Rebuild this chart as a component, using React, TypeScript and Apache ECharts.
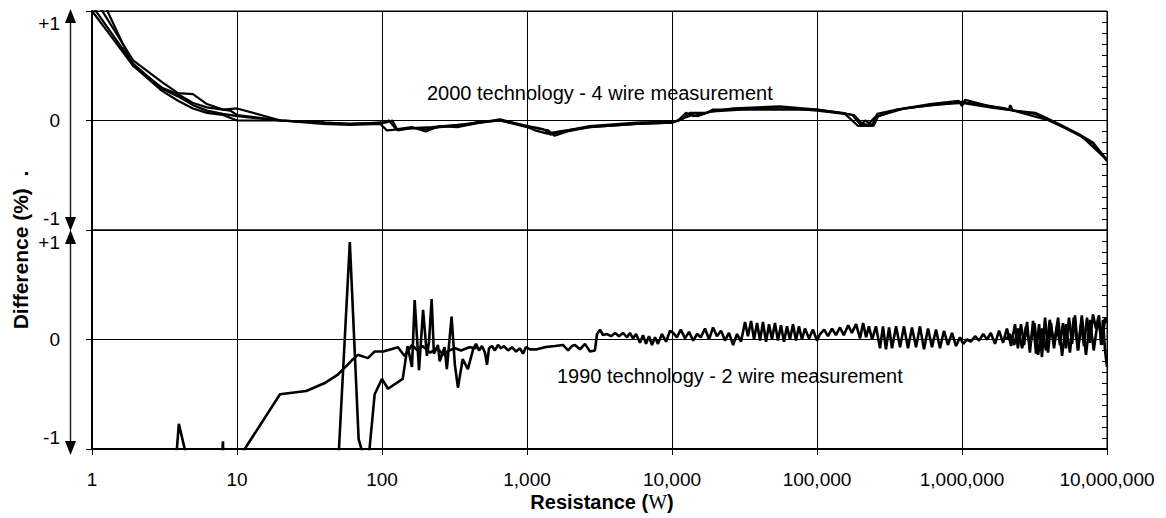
import React, { useEffect, useRef } from "react";
import * as echarts from "echarts";

// ---------- tick labels ----------
const Y_TICK_LABELS: Record<string, string> = { "1": "+1", "0": "0", "-1": "-1" };
const X_TITLE_MAIN = "Resistance (";
const X_TITLE_UNIT = "W";
const Y_TITLE = "Difference (%)  .";
const LABEL_2000 = "2000 technology - 4 wire measurement";
const LABEL_1990 = "1990 technology - 2 wire measurement";

// ---------- 2000 technology (4 wire), four runs: [resistance, difference %] ----------
const run2000A: number[][] = [
  [1, 1.0], [1.3, 0.8], [1.92, 0.5], [3.04, 0.27], [3.92, 0.18], [4.97, 0.11], [6.2, 0.07], [8, 0.05], [10, 0.0],
  [20, 0.0], [39, -0.03], [60, -0.04], [97, -0.03], [108, -0.09], [133, -0.08], [160, -0.07], [200, -0.08],
  [250, -0.06], [330, -0.05], [474, -0.01], [651, 0.0], [1000, -0.06], [1136, -0.09], [1380, -0.12], [1680, -0.1],
  [2700, -0.06], [5700, -0.03], [10000, -0.02], [11700, 0.01], [13300, 0.07], [17400, 0.07], [19200, 0.1],
  [26500, 0.1], [55600, 0.12], [100000, 0.09], [156000, 0.06], [192000, -0.05], [239000, -0.05], [260000, 0.06],
  [356000, 0.1], [601000, 0.14], [1000000, 0.16], [1560000, 0.12], [2300000, 0.09], [3200000, 0.06],
  [3860000, 0.01], [4970000, -0.06], [6500000, -0.14], [8000000, -0.21], [10000000, -0.37],
];
const run2000B: number[][] = [
  [1, 1.05], [1.92, 0.52], [3.04, 0.29], [3.92, 0.22], [4.97, 0.14], [6.2, 0.09], [8, 0.06], [10, 0.04], [20, 0.0],
  [40, -0.02], [60, -0.03], [100, -0.02], [112, 0.0], [125, -0.08], [160, -0.06], [200, -0.1], [250, -0.05],
  [330, -0.06], [474, -0.02], [651, 0.01], [1000, -0.05], [1200, -0.07], [1300, -0.08], [1450, -0.13], [1750, -0.1],
  [2700, -0.05], [5700, -0.02], [10000, -0.01], [11000, 0.0], [12500, 0.07], [14000, 0.04], [16500, 0.06],
  [18500, 0.08], [20500, 0.09], [26500, 0.11], [55600, 0.13], [100000, 0.1], [150000, 0.07], [175000, 0.05],
  [200000, -0.04], [215000, 0.0], [245000, -0.05], [265000, 0.04], [356000, 0.1], [601000, 0.15], [950000, 0.18],
  [1000000, 0.13], [1050000, 0.19], [1560000, 0.13], [2100000, 0.1], [2150000, 0.14], [2250000, 0.09],
  [3200000, 0.07], [3860000, 0.02], [4970000, -0.05], [6500000, -0.13], [8000000, -0.2], [10000000, -0.36],
];
const run2000C: number[][] = [
  [1, 1.15], [1.92, 0.55], [3.04, 0.35], [3.92, 0.25], [4.97, 0.24], [6.2, 0.15], [8, 0.1], [10, 0.11], [20, 0.0],
  [40, -0.02], [60, -0.03], [105, -0.02], [118, 0.0], [128, -0.09], [160, -0.07], [220, -0.06], [330, -0.04],
  [474, -0.02], [651, 0.0], [1000, -0.05], [1250, -0.08], [1400, -0.09], [1550, -0.14], [1900, -0.1], [2700, -0.06],
  [5700, -0.03], [10000, -0.02], [12000, 0.02], [13800, 0.05], [15000, 0.04], [18000, 0.08], [30000, 0.1],
  [100000, 0.1], [180000, 0.05], [205000, -0.03], [225000, -0.04], [250000, 0.03], [400000, 0.11],
  [1000000, 0.17], [2000000, 0.11], [4000000, 0.0], [6500000, -0.13], [10000000, -0.36],
];
const run2000D: number[][] = [
  [1, 1.3], [1.92, 0.5], [3.04, 0.3], [3.92, 0.24], [4.97, 0.16], [6.2, 0.12], [8, 0.1], [9, 0.09], [10, 0.05],
  [20, 0.0], [40, -0.02],
];

// ---------- 1990 technology (2 wire) ----------
const run1990Smooth: number[][] = [
  [10, -1.11], [11.3, -1.0], [19.8, -0.5], [30, -0.47], [40, -0.4], [49.6, -0.32], [62, -0.19], [68, -0.14],
  [80, -0.17], [89, -0.11], [102, -0.11], [129, -0.07], [143, -0.15], [161, -0.05], [175, -0.1], [190, -0.06],
  [215, -0.12], [240, -0.08], [265, -0.14], [290, -0.1], [320, -0.08], [350, -0.1], [400, -0.07], [450, -0.08],
];
const run1990Main: number[][] = [
  [3.5, -1.3], [3.85, -1.0], [3.97, -0.77], [4.45, -1.05], [5, -1.3], [7.8, -1.2], [8.0, -0.93], [8.1, -1.2],
  [40, -1.5], [50.5, -1.0], [60, 0.89], [69, -0.91], [74, -1.05], [78, -1.3], [82, -1.0], [89, -0.5], [100, -0.36],
  [110, -0.45], [139, -0.36], [150, -0.06], [161, -0.25], [168, 0.36], [180, -0.28], [192, 0.27], [204, -0.15],
  [211, -0.02], [220, 0.37], [228, -0.13], [243, -0.05], [250, -0.2], [270, -0.07], [280, -0.27], [302, 0.21],
  [318, -0.23], [334, -0.44], [360, -0.18], [391, -0.27], [425, -0.09], [445, -0.04], [467, -0.1], [489, -0.06],
  [513, -0.12], [530, -0.23], [547, -0.08], [574, -0.06], [601, -0.1], [631, -0.05], [662, -0.08], [694, -0.06],
  [740, -0.1], [789, -0.07], [840, -0.11], [895, -0.08], [938, -0.13], [984, -0.07], [1050, -0.09], [1170, -0.09],
  [1330, -0.07], [1560, -0.06], [1770, -0.05], [1920, -0.1], [2040, -0.06], [2140, -0.05], [2320, -0.09],
  [2510, -0.04], [2720, -0.11], [2940, -0.1], [3040, 0.05], [3190, 0.09], [3340, 0.04], [3560, 0.05], [3800, 0.03],
  [4050, 0.06], [4310, 0.03], [4590, 0.06], [4900, 0.02], [5130, 0.06], [5380, 0.01], [5650, 0.05], [6010, -0.03],
  [6310, 0.04], [6620, -0.04], [6940, 0.03], [7280, -0.05], [7640, 0.02], [8000, -0.04], [8530, 0.05],
  [9100, -0.02], [9690, 0.08], [10200, 0.06], [10800, 0.02], [11500, 0.09], [12300, 0.01], [13100, 0.07],
  [14000, -0.01], [14900, 0.05], [15800, 0.02], [16900, 0.1], [18000, 0.0], [19200, 0.11], [20400, 0.03],
  [21800, 0.08], [23200, -0.01], [24700, 0.06], [26400, -0.05], [28100, 0.05], [29900, -0.02], [31900, 0.16],
  [33400, 0.03], [35100, 0.17], [36800, 0.0], [38600, 0.15], [40500, -0.01], [42400, 0.16], [44500, -0.02],
  [46700, 0.14], [48900, 0.0], [51300, 0.15], [53800, -0.01], [56400, 0.13], [59200, -0.02], [62100, 0.12],
  [65100, 0.0], [68300, 0.14], [71600, -0.01], [75100, 0.12], [78800, 0.0], [82600, 0.1], [88100, 0.01],
  [93800, 0.09], [100000, -0.01], [105000, 0.05], [112000, 0.09], [119000, 0.03], [127000, 0.1], [135000, 0.04],
  [144000, 0.11], [153000, 0.04], [164000, 0.13], [174000, 0.06], [186000, 0.14], [198000, 0.01], [208000, 0.15],
  [218000, 0.02], [228000, 0.12], [240000, 0.0], [255000, 0.12], [272000, -0.08], [285000, 0.12], [299000, -0.09],
  [314000, 0.11], [329000, -0.08], [351000, 0.12], [374000, -0.07], [398000, 0.12], [424000, -0.08],
  [452000, 0.11], [482000, -0.07], [513000, 0.12], [547000, -0.09], [583000, 0.1], [621000, -0.07],
  [662000, 0.09], [705000, -0.08], [751000, 0.08], [800000, -0.05], [853000, 0.06], [910000, -0.06],
  [968000, 0.02], [1020000, -0.04], [1080000, 0.0], [1150000, -0.02], [1230000, 0.03], [1310000, -0.01],
  [1400000, 0.05], [1490000, 0.0], [1580000, 0.06], [1690000, -0.04], [1800000, 0.08], [1920000, -0.03],
  [2040000, 0.1], [2180000, -0.06], [2320000, 0.14], [2430000, -0.08], [2550000, 0.14], [2680000, -0.05],
  [2810000, 0.16], [2940000, -0.12], [3090000, 0.17], [3240000, -0.13], [3400000, 0.14], [3560000, -0.16],
  [3740000, 0.2], [3920000, -0.12], [4110000, 0.15], [4310000, -0.08], [4520000, 0.12], [4740000, -0.05],
  [4970000, 0.15], [5210000, -0.08], [5470000, 0.2], [5740000, -0.04], [6020000, 0.22], [6310000, -0.1],
  [6620000, 0.14], [6940000, -0.06], [7280000, 0.2], [7640000, -0.03], [8000000, 0.23], [8400000, 0.1],
  [8810000, 0.22], [9100000, -0.05], [9380000, 0.18], [9690000, -0.1], [10000000, -0.25],
];
const run1990Tail: number[][] = [
  [2000000, 0.0], [2140000, 0.05], [2290000, -0.05], [2430000, 0.1], [2600000, -0.08], [2760000, 0.12],
  [2940000, -0.06], [3160000, 0.15], [3350000, -0.14], [3560000, 0.1], [3800000, -0.1], [4030000, 0.18],
  [4310000, -0.04], [4600000, 0.2], [4900000, -0.15], [5210000, 0.14], [5550000, -0.12], [5900000, 0.2],
  [6310000, -0.1], [6700000, 0.22], [7160000, -0.14], [7640000, 0.18], [8100000, -0.1], [8700000, 0.2],
  [9250000, -0.05], [9690000, 0.2], [10000000, 0.15],
];

const FONT = '"Liberation Sans", Arial, Helvetica, sans-serif';

function yLabel(v: number) {
  return Y_TICK_LABELS[String(Math.round(v))] ?? "";
}

function makeYAxes(gridIndex: number) {
  return [
    {
      type: "value",
      gridIndex,
      min: -1,
      max: 1,
      interval: 1,
      axisLine: { show: true, onZero: false, lineStyle: { color: "#000", width: 2 } },
      axisTick: { show: true, length: 6, lineStyle: { color: "#000", width: 1 } },
      axisLabel: {
        show: true,
        margin: 32,
        fontSize: 19,
        fontFamily: FONT,
        color: "#000",
        lineHeight: 24,
        formatter: yLabel,
        verticalAlignMaxLabel: "top",
        verticalAlignMinLabel: "bottom",
      },
      splitLine: { show: true, lineStyle: { color: "#000", width: 1 } },
    },
    {
      type: "value",
      gridIndex,
      min: -1,
      max: 1,
      interval: 0.1,
      axisLine: { show: false },
      axisTick: { show: true, inside: true, length: 5, lineStyle: { color: "#000", width: 1 } },
      axisLabel: { show: false },
      splitLine: { show: false },
    },
  ];
}

function lineSeries(name: string, data: number[][], axis: number, width: number) {
  return {
    name,
    type: "line",
    xAxisIndex: axis,
    yAxisIndex: axis * 2,
    data,
    showSymbol: false,
    symbol: "none",
    clip: true,
    silent: true,
    lineStyle: { color: "#000", width },
  };
}

export default function App() {
  const ref = useRef<HTMLDivElement>(null);

  useEffect(() => {
    if (!ref.current) return;
    const chart = echarts.init(ref.current, null, { renderer: "svg" });

    const xCommon = {
      type: "log",
      logBase: 10,
      min: 1,
      max: 10000000,
      splitNumber: 7,
      splitLine: { show: true, lineStyle: { color: "#000", width: 1 } },
    };

    const option: any = {
      animation: false,
      backgroundColor: "#fff",
      textStyle: { fontFamily: FONT },
      grid: [
        { left: 92, top: 11, width: 1015, height: 219, show: true, borderColor: "#000", borderWidth: 1 },
        { left: 92, top: 230, width: 1015, height: 219, show: true, borderColor: "#000", borderWidth: 1 },
      ],
      xAxis: [
        {
          ...xCommon,
          gridIndex: 0,
          axisLine: { show: false },
          axisTick: { show: false },
          axisLabel: { show: false },
        },
        {
          ...xCommon,
          gridIndex: 1,
          axisLine: { show: true, onZero: false, lineStyle: { color: "#000", width: 2 } },
          axisTick: { show: true, length: 6, lineStyle: { color: "#000", width: 1 } },
          axisLabel: {
            show: true,
            margin: 21,
            fontSize: 19,
            fontFamily: FONT,
            color: "#000",
            formatter: (v: number) => Math.round(v).toLocaleString("en-US"),
          },
        },
      ],
      yAxis: [...makeYAxes(0), ...makeYAxes(1)],
      series: [
        lineSeries("2000 A", run2000A, 0, 2.2),
        lineSeries("2000 B", run2000B, 0, 2.2),
        lineSeries("2000 C", run2000C, 0, 2.2),
        lineSeries("2000 D", run2000D, 0, 2.2),
        lineSeries("1990 smooth", run1990Smooth, 1, 2.6),
        lineSeries("1990 main", run1990Main, 1, 2.6),
        lineSeries("1990 tail", run1990Tail, 1, 2.6),
      ],
      graphic: [
        // y-axis range arrows
        { type: "line", shape: { x1: 70.5, y1: 20, x2: 70.5, y2: 220 }, style: { stroke: "#222", lineWidth: 1.5 } },
        { type: "polygon", shape: { points: [[70.5, 9], [65, 23], [76, 23]] }, style: { fill: "#000" } },
        { type: "polygon", shape: { points: [[70.5, 231], [65, 217], [76, 217]] }, style: { fill: "#000" } },
        { type: "line", shape: { x1: 70.5, y1: 240, x2: 70.5, y2: 445 }, style: { stroke: "#222", lineWidth: 1.5 } },
        { type: "polygon", shape: { points: [[70.5, 230], [65, 244], [76, 244]] }, style: { fill: "#000" } },
        { type: "polygon", shape: { points: [[70.5, 455], [65, 441], [76, 441]] }, style: { fill: "#000" } },
        // axis titles
        {
          type: "text",
          x: 20,
          y: 250,
          rotation: Math.PI / 2,
          style: {
            text: Y_TITLE,
            font: `bold 21px ${FONT}`,
            fill: "#000",
            align: "center",
            verticalAlign: "middle",
          },
        },
        {
          type: "text",
          x: 602,
          y: 502,
          style: {
            text: `{a|${X_TITLE_MAIN}}{b|${X_TITLE_UNIT}}{a|)}`,
            rich: {
              a: { font: `bold 20px ${FONT}`, fill: "#000" },
              b: { font: '20px "Liberation Serif", "Times New Roman", serif', fill: "#000" },
            },
            align: "center",
            verticalAlign: "middle",
          },
        },
        // annotations
        {
          type: "text",
          x: 427,
          y: 93,
          style: { text: LABEL_2000, font: `20px ${FONT}`, fill: "#000", align: "left", verticalAlign: "middle" },
        },
        {
          type: "text",
          x: 557,
          y: 376,
          style: { text: LABEL_1990, font: `20px ${FONT}`, fill: "#000", align: "left", verticalAlign: "middle" },
        },
      ],
    };

    chart.setOption(option);
    return () => chart.dispose();
  }, []);

  return (
    <div
      ref={ref}
      style={{ position: "fixed", left: 0, top: 0, width: 1166, height: 518, background: "#fff" }}
    />
  );
}
